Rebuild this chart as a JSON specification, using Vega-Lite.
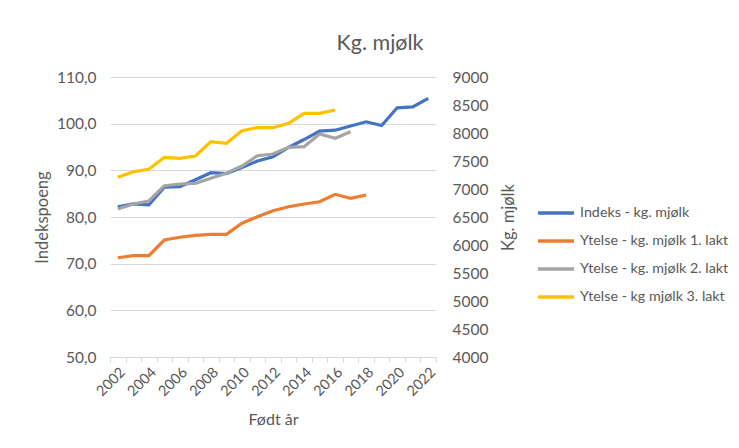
{
  "$schema": "https://vega.github.io/schema/vega-lite/v6.json",
  "autosize": {"type": "none"},
  "width": 326,
  "height": 280,
  "padding": {"left": 110, "top": 77, "right": 303, "bottom": 91},
  "background": "white",
  "title": {"text": "Kg. mjølk", "fontSize": 21.5, "font": "Lato", "fontWeight": "normal", "color": "#595959", "anchor": "middle", "dx": 107, "offset": 16},
  "data": {"values": [
    {"year": 2002, "series": "Indeks - kg. mjølk", "value": 82.2},
    {"year": 2003, "series": "Indeks - kg. mjølk", "value": 82.8},
    {"year": 2004, "series": "Indeks - kg. mjølk", "value": 82.6},
    {"year": 2005, "series": "Indeks - kg. mjølk", "value": 86.4},
    {"year": 2006, "series": "Indeks - kg. mjølk", "value": 86.5},
    {"year": 2007, "series": "Indeks - kg. mjølk", "value": 88.0},
    {"year": 2008, "series": "Indeks - kg. mjølk", "value": 89.5},
    {"year": 2009, "series": "Indeks - kg. mjølk", "value": 89.3},
    {"year": 2010, "series": "Indeks - kg. mjølk", "value": 90.6},
    {"year": 2011, "series": "Indeks - kg. mjølk", "value": 92.0},
    {"year": 2012, "series": "Indeks - kg. mjølk", "value": 92.9},
    {"year": 2013, "series": "Indeks - kg. mjølk", "value": 94.9},
    {"year": 2014, "series": "Indeks - kg. mjølk", "value": 96.6},
    {"year": 2015, "series": "Indeks - kg. mjølk", "value": 98.4},
    {"year": 2016, "series": "Indeks - kg. mjølk", "value": 98.6},
    {"year": 2017, "series": "Indeks - kg. mjølk", "value": 99.5},
    {"year": 2018, "series": "Indeks - kg. mjølk", "value": 100.4},
    {"year": 2019, "series": "Indeks - kg. mjølk", "value": 99.6},
    {"year": 2020, "series": "Indeks - kg. mjølk", "value": 103.4},
    {"year": 2021, "series": "Indeks - kg. mjølk", "value": 103.6},
    {"year": 2022, "series": "Indeks - kg. mjølk", "value": 105.4},
    {"year": 2002, "series": "Ytelse - kg. mjølk 1. lakt", "value": 5773},
    {"year": 2003, "series": "Ytelse - kg. mjølk 1. lakt", "value": 5809},
    {"year": 2004, "series": "Ytelse - kg. mjølk 1. lakt", "value": 5809},
    {"year": 2005, "series": "Ytelse - kg. mjølk 1. lakt", "value": 6089},
    {"year": 2006, "series": "Ytelse - kg. mjølk 1. lakt", "value": 6138},
    {"year": 2007, "series": "Ytelse - kg. mjølk 1. lakt", "value": 6173},
    {"year": 2008, "series": "Ytelse - kg. mjølk 1. lakt", "value": 6191},
    {"year": 2009, "series": "Ytelse - kg. mjølk 1. lakt", "value": 6191},
    {"year": 2010, "series": "Ytelse - kg. mjølk 1. lakt", "value": 6388},
    {"year": 2011, "series": "Ytelse - kg. mjølk 1. lakt", "value": 6505},
    {"year": 2012, "series": "Ytelse - kg. mjølk 1. lakt", "value": 6613},
    {"year": 2013, "series": "Ytelse - kg. mjølk 1. lakt", "value": 6684},
    {"year": 2014, "series": "Ytelse - kg. mjølk 1. lakt", "value": 6732},
    {"year": 2015, "series": "Ytelse - kg. mjølk 1. lakt", "value": 6773},
    {"year": 2016, "series": "Ytelse - kg. mjølk 1. lakt", "value": 6905},
    {"year": 2017, "series": "Ytelse - kg. mjølk 1. lakt", "value": 6834},
    {"year": 2018, "series": "Ytelse - kg. mjølk 1. lakt", "value": 6893},
    {"year": 2002, "series": "Ytelse - kg. mjølk 2. lakt", "value": 6643},
    {"year": 2003, "series": "Ytelse - kg. mjølk 2. lakt", "value": 6732},
    {"year": 2004, "series": "Ytelse - kg. mjølk 2. lakt", "value": 6786},
    {"year": 2005, "series": "Ytelse - kg. mjølk 2. lakt", "value": 7059},
    {"year": 2006, "series": "Ytelse - kg. mjølk 2. lakt", "value": 7089},
    {"year": 2007, "series": "Ytelse - kg. mjølk 2. lakt", "value": 7102},
    {"year": 2008, "series": "Ytelse - kg. mjølk 2. lakt", "value": 7191},
    {"year": 2009, "series": "Ytelse - kg. mjølk 2. lakt", "value": 7280},
    {"year": 2010, "series": "Ytelse - kg. mjølk 2. lakt", "value": 7411},
    {"year": 2011, "series": "Ytelse - kg. mjølk 2. lakt", "value": 7595},
    {"year": 2012, "series": "Ytelse - kg. mjølk 2. lakt", "value": 7625},
    {"year": 2013, "series": "Ytelse - kg. mjølk 2. lakt", "value": 7745},
    {"year": 2014, "series": "Ytelse - kg. mjølk 2. lakt", "value": 7755},
    {"year": 2015, "series": "Ytelse - kg. mjølk 2. lakt", "value": 7982},
    {"year": 2016, "series": "Ytelse - kg. mjølk 2. lakt", "value": 7905},
    {"year": 2017, "series": "Ytelse - kg. mjølk 2. lakt", "value": 8023},
    {"year": 2002, "series": "Ytelse - kg mjølk 3. lakt", "value": 7209},
    {"year": 2003, "series": "Ytelse - kg mjølk 3. lakt", "value": 7309},
    {"year": 2004, "series": "Ytelse - kg mjølk 3. lakt", "value": 7352},
    {"year": 2005, "series": "Ytelse - kg mjølk 3. lakt", "value": 7566},
    {"year": 2006, "series": "Ytelse - kg mjølk 3. lakt", "value": 7548},
    {"year": 2007, "series": "Ytelse - kg mjølk 3. lakt", "value": 7589},
    {"year": 2008, "series": "Ytelse - kg mjølk 3. lakt", "value": 7845},
    {"year": 2009, "series": "Ytelse - kg mjølk 3. lakt", "value": 7816},
    {"year": 2010, "series": "Ytelse - kg mjølk 3. lakt", "value": 8041},
    {"year": 2011, "series": "Ytelse - kg mjølk 3. lakt", "value": 8095},
    {"year": 2012, "series": "Ytelse - kg mjølk 3. lakt", "value": 8095},
    {"year": 2013, "series": "Ytelse - kg mjølk 3. lakt", "value": 8173},
    {"year": 2014, "series": "Ytelse - kg mjølk 3. lakt", "value": 8352},
    {"year": 2015, "series": "Ytelse - kg mjølk 3. lakt", "value": 8352},
    {"year": 2016, "series": "Ytelse - kg mjølk 3. lakt", "value": 8411}
  ]},
  "encoding": {
    "x": {
      "field": "year", "type": "ordinal",
      "scale": {"type": "band", "paddingInner": 0, "paddingOuter": 0},
      "axis": {
        "title": "Født år", "titleFont": "Lato", "titleFontSize": 16, "titleFontWeight": "normal", "titleColor": "#595959", "titlePadding": 13,
        "labelAngle": -45, "labelFont": "Lato", "labelFontSize": 14.5, "labelColor": "#595959",
        "labelExpr": "datum.value % 2 == 0 ? datum.label : ''",
        "tickBand": "extent", "tickColor": "#d9d9d9", "tickSize": 5,
        "domainColor": "#d9d9d9", "grid": false, "labelPadding": 3
      }
    },
    "color": {
      "field": "series", "type": "nominal",
      "scale": {
        "domain": ["Indeks - kg. mjølk", "Ytelse - kg. mjølk 1. lakt", "Ytelse - kg. mjølk 2. lakt", "Ytelse - kg mjølk 3. lakt"],
        "range": ["#4472C4", "#ED7D31", "#A5A5A5", "#FFC000"]
      },
      "legend": {
        "orient": "none", "legendX": 426, "legendY": 116, "title": null,
        "symbolType": "stroke", "symbolSize": 1296, "symbolStrokeWidth": 3.5,
        "labelFont": "Lato", "labelFontSize": 14.3, "labelColor": "#595959", "labelLimit": 300,
        "rowPadding": -6, "labelOffset": 4
      }
    }
  },
  "layer": [
    {
      "transform": [{"filter": "datum.series == 'Indeks - kg. mjølk'"}],
      "mark": {"type": "line", "strokeWidth": 3.2},
      "encoding": {
        "y": {
          "field": "value", "type": "quantitative",
          "scale": {"domain": [50, 110], "nice": false, "zero": false},
          "axis": {
            "orient": "left", "title": "Indekspoeng", "titleFont": "Lato", "titleFontSize": 16.5, "titleFontWeight": "normal", "titleColor": "#595959", "titlePadding": 6,
            "values": [50, 60, 70, 80, 90, 100, 110],
            "labelExpr": "replace(format(datum.value, '.1f'), '.', ',')",
            "labelFont": "Lato", "labelFontSize": 15.5, "labelColor": "#595959", "labelPadding": 14,
            "domain": false, "ticks": false, "grid": true, "gridColor": "#d9d9d9", "gridWidth": 1
          }
        }
      }
    },
    {
      "transform": [{"filter": "datum.series != 'Indeks - kg. mjølk'"}],
      "mark": {"type": "line", "strokeWidth": 3.2},
      "encoding": {
        "y": {
          "field": "value", "type": "quantitative",
          "scale": {"domain": [4000, 9000], "nice": false, "zero": false},
          "axis": {
            "orient": "right", "title": "Kg. mjølk", "titleAngle": 270, "titleFont": "Lato", "titleFontSize": 16.5, "titleFontWeight": "normal", "titleColor": "#595959", "titlePadding": 29,
            "values": [4000, 4500, 5000, 5500, 6000, 6500, 7000, 7500, 8000, 8500, 9000],
            "format": "d",
            "labelFont": "Lato", "labelFontSize": 15.5, "labelColor": "#595959", "labelPadding": 16,
            "domain": false, "ticks": false, "grid": false
          }
        }
      }
    }
  ],
  "resolve": {"scale": {"y": "independent"}},
  "config": {"view": {"stroke": null}}
}
